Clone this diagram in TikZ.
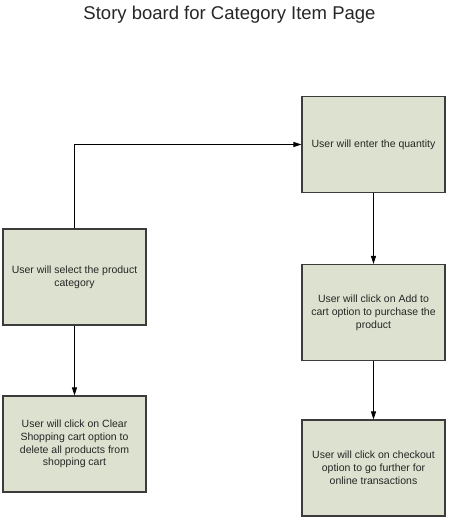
\documentclass[tikz,border=0pt]{standalone}
\usepackage{fontspec}
\setmainfont{Liberation Sans}
\usetikzlibrary{arrows.meta}
\definecolor{boxfill}{RGB}{221,225,207}
\definecolor{boxline}{RGB}{60,60,60}
\tikzset{
  stepbox/.style={draw=boxline, fill=boxfill, line width=1.1pt,
    minimum width=143pt, minimum height=96pt, inner sep=0pt,
    align=center, font=\fontsize{10.5}{12.8}\selectfont, text=black!85},
  flow/.style={draw=black, line width=0.9pt, -{Triangle[length=8pt,width=5pt]}}
}
\begin{document}
\begin{tikzpicture}[x=1pt,y=1pt]
\useasboundingbox (0,0) rectangle (450,-520);
\node[font=\fontsize{18.5}{22}\selectfont, text=black!85, anchor=base] (title) at (229.5,-19) {Story board for Category Item Page};
\node[stepbox] (a) at (74.5,-277) {User will select the product\\category};
\node[stepbox] (b) at (373.5,-144.5) {User will enter the quantity};
\node[stepbox] (c) at (373.5,-312.5) {User will click on Add to\\cart option to purchase the\\product};
\node[stepbox] (d) at (74.5,-444) {User will click on Clear\\Shopping cart option to\\delete all products from\\shopping cart};
\node[stepbox] (e) at (373.5,-468) {User will click on checkout\\option to go further for\\online transactions};
\draw[flow] (a.north) |- (b.west);
\draw[flow] (b.south) -- (c.north);
\draw[flow] (c.south) -- (e.north);
\draw[flow] (a.south) -- (d.north);
\end{tikzpicture}
\end{document}
